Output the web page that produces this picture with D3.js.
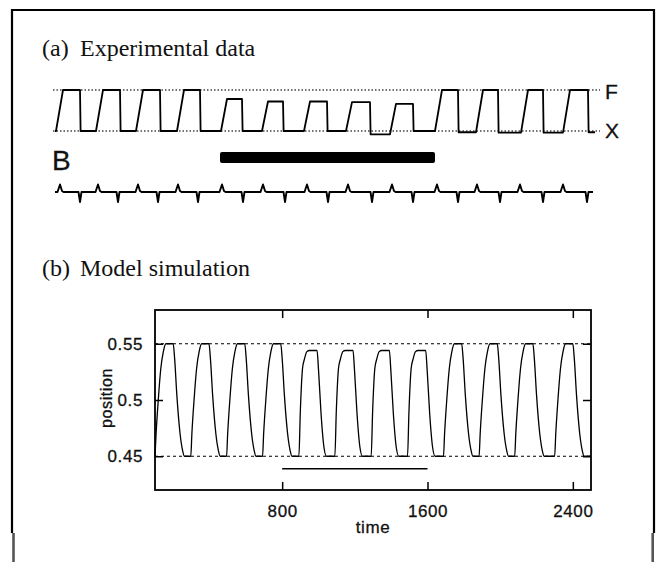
<!DOCTYPE html>
<html lang="en">
<head>
<meta charset="utf-8">
<title>Experimental data and model simulation</title>
<script src="https://d3js.org/d3.v7.min.js"></script>
<style>
  body { margin: 0; background: #fff; }
  svg { display: block; }
  .serif { font-family: "Liberation Serif", "Times New Roman", serif; fill: #111; }
  .sans { font-family: "Liberation Sans", Arial, sans-serif; fill: #111; stroke: #111; stroke-width: 0.3px; }
</style>
</head>
<body>
<script>
var width = 660,
    height = 562;

// ---- (a) experimental record, time in frame units (0..540)
var expRise  = [1, 41, 81, 122, 166, 207, 249, 291, 335, 380, 421, 466, 508];   // foot of each rising edge
var expTop   = [8, 48, 88, 129, 172, 213, 255, 297, 341, 387, 428, 473, 515];   // top of rising edge
var expFall  = [25, 65, 105, 145, 187, 228, 272, 315, 358, 403, 443, 488, 533];
var expLevel = [1, 1, 1, 1, 0.78, 0.72, 0.72, 0.705, 0.66, 1, 1, 1, 1];         // 0 = X, 1 = F
var expBase  = [0, 0, 0, 0, 0, 0, 0, -0.08, 0, -0.03, -0.04, -0.04, -0.03];      // level after each fall
var expRefs  = [0, 1];
var burstUp   = [5, 43, 83, 123, 167, 208, 252, 293, 337, 382, 422, 465, 508];
var burstDown = [25, 63, 103, 143, 188, 230, 273, 317, 358, 403, 445, 488, 532];
var expStim  = [165, 380];

// ---- (b) model simulation
var simT = [
  100, 106, 118, 132, 146, 160, 200, 208, 220, 238, 252, 262,
  297, 303, 315, 329, 343, 357, 397, 405, 417, 435, 449, 459,
  494, 500, 512, 526, 540, 554, 594, 602, 614, 632, 646, 656,
  692, 698, 710, 724, 738, 752, 792, 800, 812, 830, 844, 854,
  892, 900, 912, 922, 936, 950, 992, 1000, 1014, 1030, 1044,
  1090, 1098, 1110, 1120, 1134, 1148, 1190, 1198, 1212, 1228, 1242,
  1290, 1298, 1310, 1320, 1334, 1348, 1390, 1398, 1412, 1428, 1442,
  1490, 1498, 1510, 1520, 1534, 1548, 1590, 1598, 1612, 1628, 1642,
  1688, 1694, 1706, 1720, 1734, 1748, 1788, 1796, 1808, 1826, 1840, 1850,
  1884, 1890, 1902, 1916, 1930, 1944, 1984, 1992, 2004, 2022, 2036, 2046,
  2080, 2086, 2098, 2112, 2126, 2140, 2180, 2188, 2200, 2218, 2232, 2242,
  2300, 2306, 2318, 2332, 2346, 2360, 2400, 2408, 2420, 2438, 2452, 2462,
  2500
];
var simY = [
  .45, .47, .5, .528, .543, .55, .55, .537, .505, .47, .455, .45,
  .45, .47, .5, .528, .543, .55, .55, .537, .505, .47, .455, .45,
  .45, .47, .5, .528, .543, .55, .55, .537, .505, .47, .455, .45,
  .45, .47, .5, .528, .543, .55, .55, .537, .505, .47, .455, .45,
  .45, .49, .528, .536, .543, .544, .544, .527, .488, .458, .45,
  .45, .49, .528, .536, .543, .544, .544, .527, .488, .458, .45,
  .45, .49, .528, .536, .543, .544, .544, .527, .488, .458, .45,
  .45, .49, .528, .536, .543, .544, .544, .527, .488, .458, .45,
  .45, .47, .5, .528, .543, .55, .55, .537, .505, .47, .455, .45,
  .45, .47, .5, .528, .543, .55, .55, .537, .505, .47, .455, .45,
  .45, .47, .5, .528, .543, .55, .55, .537, .505, .47, .455, .45,
  .45, .47, .5, .528, .543, .55, .55, .537, .505, .47, .455, .45,
  .45
];
var simRefs = [0.45, 0.55];
var simStim = [800, 1600];
var simStimLevel = 0.439;
var xTicks = [800, 1600, 2400];
var yTicks = [0.45, 0.5, 0.55];
var yTickLabels = ["0.45", "0.5", "0.55"];

var svg = d3.select("body")
    .append("svg")
    .attr("width", width)
    .attr("height", height);

svg.append("rect").attr("width", width).attr("height", height).style("fill", "#fff");

// outer frame (open at the bottom)
svg.append("path")
    .attr("d", "M12,533V10H654V533")
    .style("fill", "none").style("stroke", "#000").style("stroke-width", 2.2);
svg.append("rect").attr("x", 12.2).attr("y", 533).attr("width", 2.6).attr("height", 29).style("fill", "#555");
svg.append("rect").attr("x", 651.4).attr("y", 533).attr("width", 2.6).attr("height", 29).style("fill", "#555");

// panel titles
svg.append("text").attr("class", "serif").attr("x", 42).attr("y", 56).style("font-size", "24px").text("(a)");
svg.append("text").attr("class", "serif").attr("x", 80).attr("y", 56).style("font-size", "24px").text("Experimental data");
svg.append("text").attr("class", "serif").attr("x", 42).attr("y", 276).style("font-size", "24px").text("(b)");
svg.append("text").attr("class", "serif").attr("x", 80).attr("y", 276).style("font-size", "24px").text("Model simulation");

// ================= (a)
var xa = d3.scaleLinear().domain([0, 540]).range([55, 595]);
var ya = d3.scaleLinear().domain([0, 1]).range([131, 90]);
var yb = d3.scaleLinear().domain([-1, 1]).range([202, 182]);

svg.selectAll(".expref")
    .data(expRefs)
    .enter().append("line")
    .attr("class", "expref")
    .attr("x1", xa(-2)).attr("x2", xa(545))
    .attr("y1", function(d) { return ya(d); })
    .attr("y2", function(d) { return ya(d); })
    .style("stroke", "#444").style("stroke-width", 1.6)
    .style("stroke-dasharray", "1.5,2");

// square wave from the edge times
var wave = [[0, 0]];
var base = 0;
expRise.forEach(function(r, i) {
  wave.push([r, base]);
  wave.push([expTop[i], expLevel[i]]);
  wave.push([expFall[i], expLevel[i]]);
  wave.push([expFall[i] + 0.6, expBase[i]]);
  base = expBase[i];
});
wave.push([540, base]);

var lineA = d3.line()
    .x(function(d) { return xa(d[0]); })
    .y(function(d) { return ya(d[1]); });

svg.append("path")
    .datum(wave)
    .attr("d", lineA)
    .style("fill", "none").style("stroke", "#000").style("stroke-width", 1.8)
    .style("stroke-linejoin", "round");

// burst trace: small bump at each rise, sharp dip at each fall
var events = burstUp.map(function(t) { return {t: t, up: true}; })
    .concat(burstDown.map(function(t) { return {t: t, up: false}; }))
    .sort(function(a, b) { return a.t - b.t; });
var burst = [[0, 0]];
events.forEach(function(e) {
  if (e.up) {
    burst.push([e.t - 2.5, 0], [e.t, 0.75], [e.t + 2, 0.1], [e.t + 3.5, 0]);
  } else {
    burst.push([e.t - 1.5, 0], [e.t, -1], [e.t + 1.5, 0]);
  }
});
burst.push([538, 0]);

svg.append("path")
    .datum(burst)
    .attr("d", d3.line().x(function(d) { return xa(d[0]); }).y(function(d) { return yb(d[1]); }))
    .style("fill", "none").style("stroke", "#000").style("stroke-width", 1.9)
    .style("stroke-linejoin", "round");

svg.append("rect")
    .attr("x", xa(expStim[0])).attr("y", 152)
    .attr("width", xa(expStim[1]) - xa(expStim[0])).attr("height", 11)
    .attr("rx", 2)
    .style("fill", "#000");

svg.append("text").attr("class", "sans").attr("x", 605).attr("y", 99).style("font-size", "21px").text("F");
svg.append("text").attr("class", "sans").attr("x", 605).attr("y", 138).style("font-size", "21px").text("X");
svg.append("text").attr("class", "sans").attr("x", 52).attr("y", 170).style("font-size", "28px").text("B");

// ================= (b)
var xs = d3.scaleLinear().domain([100, 2500]).range([155, 591]);
var ys = d3.scaleLinear().domain([0.42, 0.58]).range([490, 310]);

var gb = svg.append("g");

gb.selectAll(".simref")
    .data(simRefs)
    .enter().append("line")
    .attr("class", "simref")
    .attr("x1", xs.range()[0]).attr("x2", xs.range()[1])
    .attr("y1", function(d) { return ys(d); })
    .attr("y2", function(d) { return ys(d); })
    .style("stroke", "#000").style("stroke-width", 1.1)
    .style("stroke-dasharray", "3,3");

var sim = simT.map(function(t, i) { return [t, simY[i]]; });

gb.append("path")
    .datum(sim)
    .attr("d", d3.line()
        .x(function(d) { return xs(d[0]); })
        .y(function(d) { return ys(d[1]); })
        .curve(d3.curveMonotoneX))
    .style("fill", "none").style("stroke", "#000").style("stroke-width", 1.3);

gb.append("line")
    .attr("x1", xs(simStim[0])).attr("x2", xs(simStim[1]))
    .attr("y1", ys(simStimLevel)).attr("y2", ys(simStimLevel))
    .style("stroke", "#000").style("stroke-width", 1.5);

// axes, ticks pointing inwards on all four sides
gb.append("g").attr("transform", "translate(0,490)")
    .call(d3.axisBottom(xs).tickValues(xTicks).tickSizeInner(-8).tickSizeOuter(0).tickPadding(15)
        .tickFormat(d3.format("d")));
gb.append("g").attr("transform", "translate(155,0)")
    .call(d3.axisLeft(ys).tickValues(yTicks).tickSizeInner(-8).tickSizeOuter(0).tickPadding(12)
        .tickFormat(function(d, i) { return yTickLabels[i]; }));
gb.append("g").attr("transform", "translate(0,310)")
    .call(d3.axisTop(xs).tickValues(xTicks).tickSizeInner(-8).tickSizeOuter(0).tickFormat(""));
gb.append("g").attr("transform", "translate(591,0)")
    .call(d3.axisRight(ys).tickValues(yTicks).tickSizeInner(-8).tickSizeOuter(0).tickFormat(""));

gb.selectAll(".domain").remove();
gb.selectAll(".tick line").style("stroke", "#000").style("stroke-width", 1.5);
gb.selectAll(".tick text")
    .attr("class", "sans")
    .style("font-size", "17px")
    .style("letter-spacing", "0.6px");

gb.append("rect")
    .attr("x", 155).attr("y", 310).attr("width", 436).attr("height", 180)
    .style("fill", "none").style("stroke", "#000").style("stroke-width", 1.8);

svg.append("text").attr("class", "sans")
    .attr("x", 373).attr("y", 533)
    .attr("text-anchor", "middle")
    .style("font-size", "17px").style("letter-spacing", "0.6px")
    .text("time");

svg.append("text").attr("class", "sans")
    .attr("transform", "translate(112,398) rotate(-90)")
    .attr("text-anchor", "middle")
    .style("font-size", "16px").style("letter-spacing", "0.6px")
    .text("position");
</script>
</body>
</html>
